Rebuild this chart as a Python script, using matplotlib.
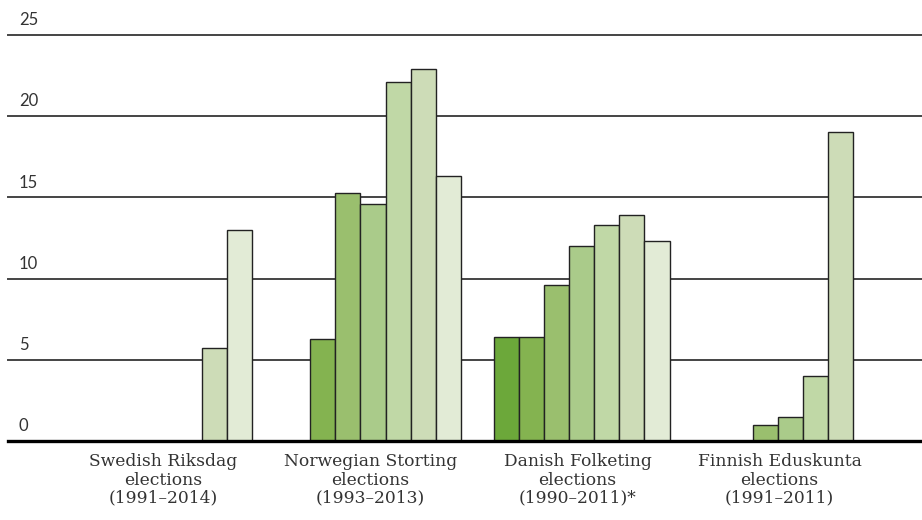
import matplotlib
matplotlib.use("Agg")
import matplotlib.pyplot as plt

# Data (index = election slot within group)
groups = ["Swedish Riksdag\nelections\n(1991\u20132014)",
          "Norwegian Storting\nelections\n(1993\u20132013)",
          "Danish Folketing\nelections\n(1990\u20132011)*",
          "Finnish Eduskunta\nelections\n(1991\u20132011)"]
swedish = [None, None, None, None, None, 5.7, 13.0]
norwegian = [None, 6.3, 15.3, 14.6, 22.1, 22.9, 16.3]
danish = [6.4, 6.4, 9.6, 12.0, 13.3, 13.9, 12.3]
finnish = [None, None, 1.0, 1.5, 4.0, 19.0, None]
series = [swedish, norwegian, danish, finnish]
yticks = [0, 5, 10, 15, 20, 25]

shades = ["#6ca83a", "#84b350", "#9abf6e", "#aacb8a",
          "#c0d8a6", "#cddcb7", "#e2ebd6"]
stride = 8.3
label_offsets = [3.47, 3.39, 3.34, 3.07]  # where each group label sits

fig = plt.figure(figsize=(9.22, 5.2), dpi=100)
ax = fig.add_axes([8 / 922, 79 / 520, 914 / 922, 406 / 520])

for g, vals in enumerate(series):
    for s, v in enumerate(vals):
        if v is None:
            continue
        ax.bar(g * stride + s, v, width=1, align="edge", color=shades[s],
               edgecolor="#222222", linewidth=1.0, zorder=3)

# gridlines with labels above them
for t in yticks:
    ax.axhline(t, color="#000000" if t == 0 else "#444444",
               lw=2.4 if t == 0 else 1.4, zorder=4 if t == 0 else 1, clip_on=False)
    ax.text(0.012, t + 0.42, str(t), transform=ax.get_yaxis_transform(),
            ha="left", va="bottom", fontsize=12, color="#333333",
            family="Lato", clip_on=False)

ax.set_xlim(-2.72, 33.64)
ax.set_ylim(0, 25)
ax.set_xticks([g * stride + off for g, off in enumerate(label_offsets)])
ax.set_xticklabels(groups, fontsize=12.3, color="#333333", family="DejaVu Serif",
                   linespacing=1.08)
ax.tick_params(axis="x", length=0, pad=9)
ax.set_yticks([])
for sp in ax.spines.values():
    sp.set_visible(False)

fig.savefig("out.png", dpi=100)
